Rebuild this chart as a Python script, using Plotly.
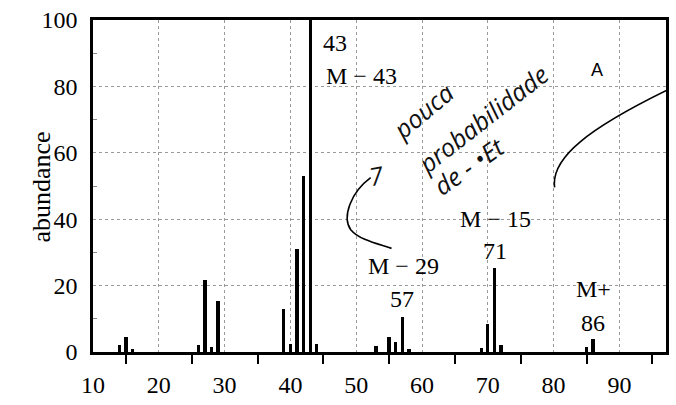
import plotly.graph_objects as go

# m/z values and relative abundance
mz = [14, 15, 16, 26, 27, 28, 29, 39, 40, 41, 42, 43, 44, 53, 55, 56, 57, 58, 69, 70, 71, 72, 85, 86]
abundance = [2, 4.4, 1, 2, 21.7, 1.5, 15.5, 13, 2.4, 31, 53, 100, 2.4, 1.7, 4.4, 3, 10.6, 1, 1.2, 8.3, 25.4, 2.2, 1.4, 3.9]

x_tick_labels = [10, 20, 30, 40, 50, 60, 70, 80, 90]
x_minor_ticks = [15, 25, 35, 45, 55, 65, 75, 85, 95]
y_tick_labels = [0, 20, 40, 60, 80, 100]

# peak labels (text, m/z position, abundance position)
peak_texts = ["43", "M \u2212 43", "M \u2212 15", "71", "M \u2212 29", "57", "M+", "86"]
peak_text_x = [46.75, 50.8, 71.1, 71.1, 57.2, 57.0, 86.0, 86.0]
peak_text_y = [93.0, 83.0, 40.1, 30.3, 25.9, 16.1, 19.0, 8.7]

# figure geometry (pixels) used only for placing hand-drawn decorations
W, H = 676, 405
L, R, T, B = 92.8, 669.0, 19.5, 357.5
XMIN, XMAX = 10, 10 + (R - L) / 6.617
YMIN, YMAX = 0, 100


def px2x(px):
    return XMIN + (px - L) / (R - L) * (XMAX - XMIN)


def px2y(py):
    return YMIN + (B - py) / (B - T) * (YMAX - YMIN)


SERIF = "Liberation Serif, Times New Roman, serif"

fig = go.Figure()
fig.add_trace(go.Bar(x=mz, y=abundance, width=0.5,
                     marker=dict(color="black", line=dict(width=0)),
                     showlegend=False))

annotations = []
for t, xx, yy in zip(peak_texts, peak_text_x, peak_text_y):
    annotations.append(dict(x=xx, y=yy, xref="x", yref="y", text=t, showarrow=False,
                            font=dict(family=SERIF, size=24, color="black")))

# "A" mark
annotations.append(dict(x=px2x(600), y=px2y(70), xref="x", yref="y", text="A", showarrow=False,
                        font=dict(family="Liberation Sans, Arial, sans-serif", size=18, color="black")))

# handwritten notes
hand_font = dict(family="Open Sans, sans-serif", size=25, color="#111", style="italic")
annotations += [
    dict(x=px2x(424), y=px2y(112), xref="x", yref="y", text="pouca", textangle=-40,
         showarrow=False, font=hand_font),
    dict(x=px2x(484), y=px2y(120), xref="x", yref="y", text="probabilidade", textangle=-38,
         showarrow=False, font=hand_font),
    dict(x=px2x(470), y=px2y(168), xref="x", yref="y", text="de - \u2022Et", textangle=-35,
         showarrow=False, font=hand_font),
    dict(x=px2x(378), y=px2y(177), xref="x", yref="y", text="7", textangle=-10,
         showarrow=False, font=hand_font),
]

# y-axis title
annotations.append(dict(x=(24 - L) / (R - L), y=(B - 190) / (B - T), xref="paper", yref="paper",
                        text="abundance", textangle=-90, showarrow=False,
                        font=dict(family=SERIF, size=26, color="black")))


def path_from_px(points):
    s = ""
    for cmd, pts in points:
        s += cmd + " " + " ".join(f"{px2x(a):.3f},{px2y(b):.3f}" for a, b in pts) + " "
    return s.strip()


shapes = [
    dict(type="path", xref="x", yref="y",
         path=path_from_px([("M", [(372, 180)]), ("C", [(352, 195), (343, 220), (352, 233)]),
                            ("C", [(360, 243), (378, 247), (393, 252)])]),
         line=dict(color="black", width=1.6)),
    dict(type="path", xref="x", yref="y",
         path=path_from_px([("M", [(557, 190)]), ("C", [(553, 160), (590, 130), (676, 88)])]),
         line=dict(color="black", width=1.6)),
]

fig.update_layout(
    width=W, height=H,
    margin=dict(l=L, r=W - R, t=T, b=H - B, pad=0),
    paper_bgcolor="white", plot_bgcolor="white",
    annotations=annotations, shapes=shapes,
    bargap=0,
    xaxis=dict(range=[XMIN, XMAX], tickvals=x_tick_labels, ticktext=[str(v) for v in x_tick_labels],
               ticks="outside", ticklen=9, tickcolor="rgba(0,0,0,0)",
               minor=dict(tickvals=x_minor_ticks, ticks="outside", ticklen=9, tickwidth=2,
                          tickcolor="black", showgrid=False),
               showgrid=True, gridcolor="#9a9a9a", griddash="dot", gridwidth=1,
               showline=True, linecolor="black", linewidth=2.5, mirror=True,
               zeroline=False,
               tickfont=dict(family=SERIF, size=24, color="black")),
    yaxis=dict(range=[YMIN, YMAX], tickvals=y_tick_labels,
               ticks="outside", ticklen=8, tickcolor="rgba(0,0,0,0)",
               minor=dict(tickvals=[10, 30, 50, 70, 90], ticks="inside", ticklen=4, tickwidth=1,
                          tickcolor="#888", showgrid=False),
               showgrid=True, gridcolor="#9a9a9a", griddash="dot", gridwidth=1,
               showline=True, linecolor="black", linewidth=2.5, mirror=True,
               zeroline=False,
               tickfont=dict(family=SERIF, size=24, color="black")),
)

fig.write_html("out.html")
